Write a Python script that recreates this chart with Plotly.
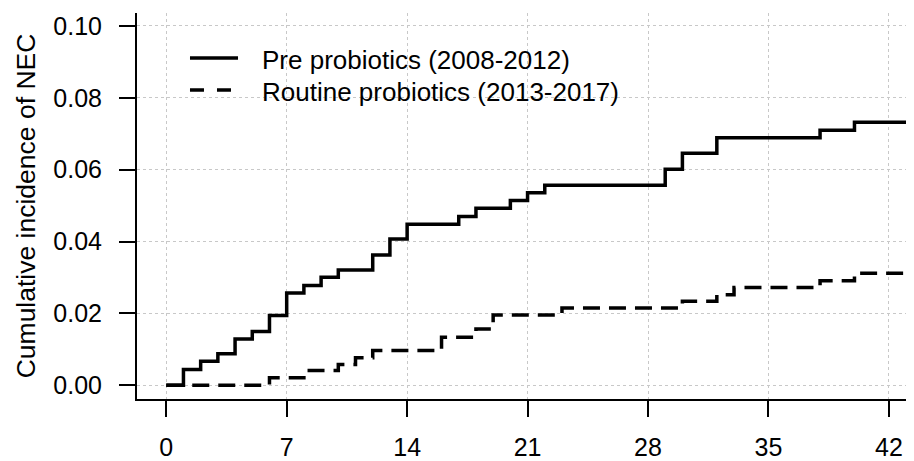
"""Cumulative incidence of NEC, pre vs routine probiotics."""
import plotly.graph_objects as go

# day of each step and the cumulative incidence reached there
pre_days = [0, 1, 2, 3, 4, 5, 6, 7, 8, 9, 10, 12, 13, 14, 17, 18, 20, 21,
            22, 29, 30, 32, 38, 40, 44]
pre_cuminc = [0.0, 0.0044, 0.0067, 0.0088, 0.0129, 0.0150, 0.0194, 0.0257,
              0.0278, 0.0301, 0.0321, 0.0363, 0.0407, 0.0448, 0.0470, 0.0493,
              0.0514, 0.0536, 0.0557, 0.0601, 0.0646, 0.0689, 0.0710, 0.0732,
              0.0732]

routine_days = [0, 6, 8, 10, 11, 12, 16, 18, 19, 23, 30, 32, 33, 38, 40, 44]
routine_cuminc = [0.0, 0.0021, 0.0041, 0.0058, 0.0077, 0.0097, 0.0134,
                  0.0157, 0.0196, 0.0215, 0.0234, 0.0252, 0.0272, 0.0291,
                  0.0312, 0.0312]

series_names = ["Pre probiotics (2008-2012)", "Routine probiotics (2013-2017)"]

x_ticks = [0, 7, 14, 21, 28, 35, 42]
y_ticks = [0.00, 0.02, 0.04, 0.06, 0.08, 0.10]
y_ticklabels = ["0.00", "0.02", "0.04", "0.06", "0.08", "0.10"]

FONT = "Liberation Sans, Arial, sans-serif"
DASH = "17px,9px"

fig = go.Figure()
fig.add_trace(go.Scatter(x=pre_days, y=pre_cuminc, mode="lines",
                         line=dict(shape="hv", color="black", width=3.5),
                         name=series_names[0], showlegend=False))
fig.add_trace(go.Scatter(x=routine_days, y=routine_cuminc, mode="lines",
                         line=dict(shape="hv", color="black", width=3.5,
                                   dash=DASH),
                         name=series_names[1], showlegend=False))

# legend drawn by hand so the key lines are as long as in the original
legend_rows = [(0.8834, "solid"), (0.8005, "14px,13px")]
for name, (ly, dash) in zip(series_names, legend_rows):
    fig.add_shape(type="line", xref="paper", yref="paper",
                  x0=0.0682, x1=0.130, y0=ly, y1=ly,
                  line=dict(color="black", width=3.5, dash=dash))
    fig.add_annotation(x=0.158, y=ly - 0.004, xref="paper", yref="paper",
                       text=name, showarrow=False,
                       xanchor="left", yanchor="middle",
                       font=dict(family=FONT, size=26, color="black"))

axis_common = dict(
    showline=True, linecolor="black", linewidth=2,
    ticks="outside", ticklen=16, tickwidth=2, tickcolor="black",
    showgrid=True, gridcolor="#c8c8c8", gridwidth=1, griddash="dot",
    zeroline=False, automargin=False,
    tickfont=dict(family=FONT, size=25, color="black"),
)

fig.update_xaxes(range=[-1.70, 43.46], tickvals=x_ticks,
                 ticklabelstandoff=9, **axis_common)
fig.update_yaxes(range=[-0.0038, 0.1036], tickvals=y_ticks,
                 ticktext=y_ticklabels, ticklabelstandoff=12,
                 title=dict(text="Cumulative incidence of NEC", standoff=10,
                            font=dict(family=FONT, size=26.5, color="black")),
                 **axis_common)

# the page adds an 8px body margin, so the figure is 8px smaller
fig.update_layout(
    width=906, height=453,
    margin=dict(l=129, r=0, t=5, b=62),
    plot_bgcolor="white", paper_bgcolor="white",
    font=dict(family=FONT, color="black"),
    showlegend=False,
)

fig.write_html("out.html")
